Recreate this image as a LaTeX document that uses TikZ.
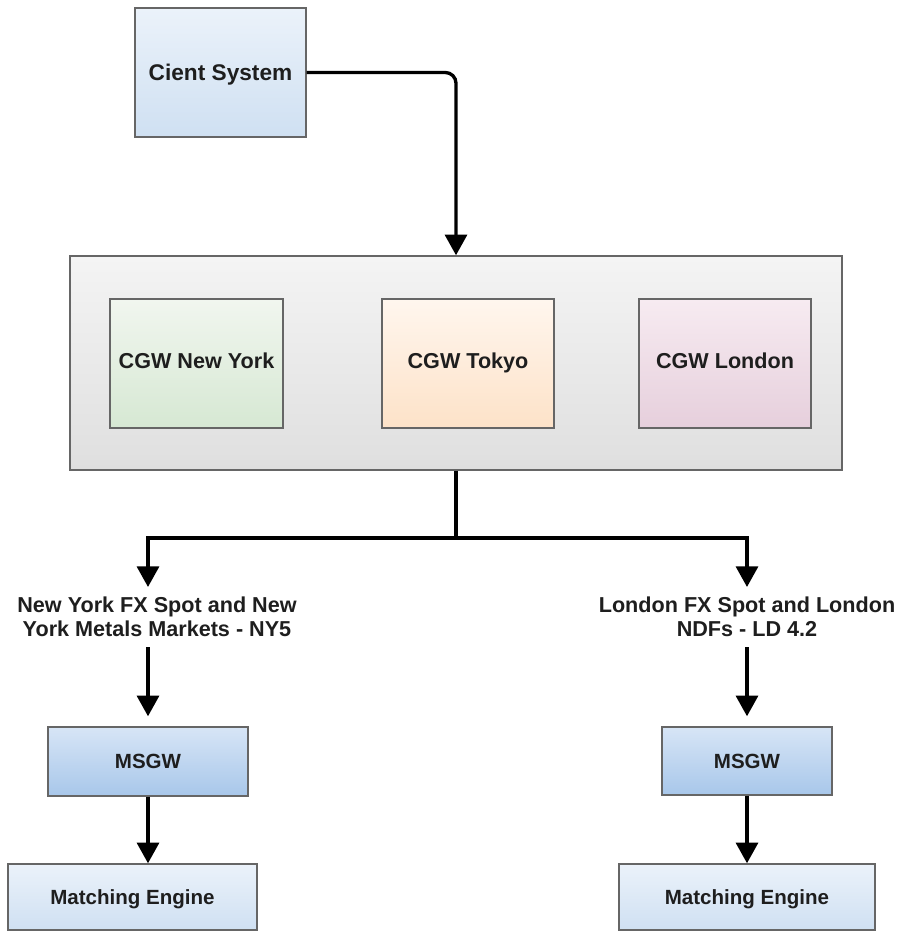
\documentclass[tikz,border=0pt]{standalone}
\usepackage{fontspec}
\setmainfont{Liberation Sans}
\usetikzlibrary{arrows.meta}

\definecolor{edge}{HTML}{666666}
\definecolor{ink}{HTML}{1E1E1E}
\definecolor{blueTop}{HTML}{EBF2FA}
\definecolor{blueBot}{HTML}{CFE0F2}
\definecolor{msgTop}{HTML}{D7E5F6}
\definecolor{msgBot}{HTML}{A8C7EA}
\definecolor{grayTop}{HTML}{F4F4F4}
\definecolor{grayBot}{HTML}{DFDFDF}
\definecolor{greenTop}{HTML}{F1F6EF}
\definecolor{greenBot}{HTML}{D6E8D3}
\definecolor{orangeTop}{HTML}{FFF6EE}
\definecolor{orangeBot}{HTML}{FDE2C8}
\definecolor{pinkTop}{HTML}{F7EBF1}
\definecolor{pinkBot}{HTML}{E6CFDC}

\tikzset{
  box/.style={draw=edge, line width=1.1pt, rectangle, inner sep=0pt,
    align=center, text=ink, text height=12pt, text depth=4pt,
    font=\bfseries\fontsize{16.5pt}{18pt}\selectfont},
  smallbox/.style={box, text height=11pt, text depth=0pt,
    font=\bfseries\fontsize{15.4pt}{18pt}\selectfont},
  lab/.style={inner xsep=0pt, inner ysep=7.5pt, align=center, text=ink,
    font=\bfseries\fontsize{16.2pt}{18pt}\selectfont},
  link/.style={line width=2.5pt, black},
  arr/.style={link, -{Triangle[length=15.5pt,width=16.5pt]}},
}

\begin{document}
\begin{tikzpicture}[x=0.75pt, y=-0.75pt]
  \useasboundingbox (0,0) rectangle (904,932);

  % client
  \node[box, top color=blueTop, bottom color=blueBot,
        minimum width=128.25pt, minimum height=96.75pt,
        text height=12pt, text depth=0pt,
        font=\bfseries\fontsize{17pt}{18pt}\selectfont]
        (client) at (220.5,72.5) {Cient System};

  % gateway group
  \node[box, top color=grayTop, bottom color=grayBot,
        minimum width=579pt, minimum height=160.5pt]
        (cont) at (456,363) {};
  \node[box, top color=greenTop, bottom color=greenBot,
        minimum width=129.75pt, minimum height=96.75pt,
        font=\bfseries\fontsize{16.2pt}{18pt}\selectfont]
        (cgwny) at (196.5,363.5) {CGW New York};
  \node[box, top color=orangeTop, bottom color=orangeBot,
        minimum width=129pt, minimum height=96.75pt,
        font=\bfseries\fontsize{16.2pt}{18pt}\selectfont]
        (cgwtk) at (468,363.5) {CGW Tokyo};
  \node[box, top color=pinkTop, bottom color=pinkBot,
        minimum width=129pt, minimum height=96.75pt,
        font=\bfseries\fontsize{16.2pt}{18pt}\selectfont]
        (cgwld) at (725,363.5) {CGW London};

  % market labels
  \node[lab, anchor=north] (nylab) at (157,587)
        {New York FX Spot and New\\York Metals Markets - NY5};
  \node[lab, anchor=north] (ldlab) at (747,587)
        {London FX Spot and London\\NDFs - LD 4.2};

  % message gateways
  \node[smallbox, top color=msgTop, bottom color=msgBot,
        minimum width=150pt, minimum height=51.75pt]
        (msgwL) at (148,761.5) {MSGW};
  \node[smallbox, top color=msgTop, bottom color=msgBot,
        minimum width=127.5pt, minimum height=51pt]
        (msgwR) at (747,761) {MSGW};

  % matching engines
  \node[smallbox, top color=blueTop, bottom color=blueBot,
        minimum width=186.75pt, minimum height=49.5pt]
        (meL) at (132.5,897) {Matching Engine};
  \node[smallbox, top color=blueTop, bottom color=blueBot,
        minimum width=192pt, minimum height=49.5pt]
        (meR) at (747,897) {Matching Engine};

  % connectors
  \draw[arr, rounded corners=8pt] (client.east) -| (cont.north);
  \coordinate (split) at (cont.south |- 0,538);
  \draw[link] (cont.south) -- (split);
  \draw[arr] (split) -| (msgwL |- nylab.north);
  \draw[arr] (split) -| (msgwR |- ldlab.north);
  \draw[arr, shorten >=7.5pt] (msgwL |- nylab.south) -- (msgwL.north);
  \draw[arr, shorten >=7.5pt] (msgwR |- ldlab.south) -- (msgwR.north);
  \draw[arr] (msgwL.south) -- (msgwL.south |- meL.north);
  \draw[arr] (msgwR.south) -- (msgwR.south |- meR.north);
\end{tikzpicture}
\end{document}
